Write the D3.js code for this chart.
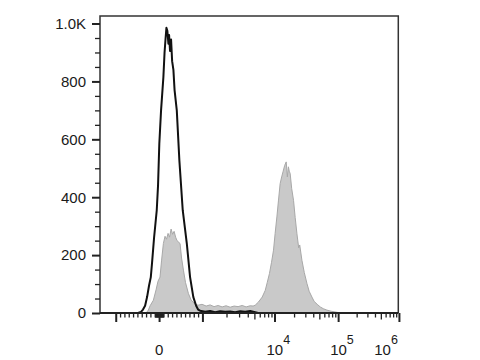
<!DOCTYPE html>
<html>
<head>
<meta charset="utf-8">
<script src="https://cdn.jsdelivr.net/npm/d3@7"></script>
<style>
  html, body { margin: 0; padding: 0; background: #fff; }
  svg { display: block; font-family: "Liberation Sans", Arial, sans-serif; }
  .axis text { fill: #1a1a1a; font-size: 15px; }
  .axis line { stroke: #222; }
</style>
</head>
<body>
<svg id="chart" width="480" height="360"></svg>
<script>
// histogram bins, x in display channels (0..256 across the biex axis)
const stainedChannels = [39.5, 41.5, 43.0, 45.8, 48.1, 49.8, 51.5, 52.8, 54.4, 55.8, 57.1, 58.4, 59.7, 61.0, 62.3, 63.6,
  64.9, 66.1, 68.7, 70.0, 71.6, 73.4, 75.9, 78.2, 81.6, 84.2, 87.6, 91.1, 94.5, 97.9, 101.4, 104.8, 108.2, 111.7,
  115.1, 118.5, 122.0, 125.4, 128.9, 131.4, 133.2, 136.0, 139.2, 141.8, 143.5, 145.4, 147.2, 148.9, 150.3, 151.8,
  153.2, 154.6, 155.9, 157.2, 158.5, 159.8, 160.8, 161.7, 162.4, 163.2, 164.5, 166.1, 167.5, 169.0, 170.5, 171.4,
  173.3, 175.3, 177.6, 179.5, 181.9, 183.8, 186.4, 189.0, 191.6, 194.7, 198.4, 202.7, 206.2];
const stainedCounts = [0, 10, 25, 44, 80, 110, 124, 180, 240, 265, 255, 275, 262, 290, 272, 282,
  262, 250, 240, 190, 148, 105, 67, 45, 30, 27, 30, 24, 28, 22, 26, 21, 25, 20,
  24, 22, 26, 21, 25, 24, 27, 38, 55, 78, 105, 136, 175, 217, 275, 332,
  390, 447, 470, 490, 510, 522, 470, 505, 490, 482, 430, 389, 330, 274, 225, 235,
  182, 140, 102, 75, 55, 40, 30, 21, 15, 10, 6, 3, 0];

const controlChannels = [0, 32.6, 35.2, 36.9, 38.7, 40.4, 42.1, 43.6, 44.7, 46.4, 48.7, 49.8, 50.9, 52.4, 54.4, 55.4,
  56.3, 57.0, 57.8, 58.7, 59.3, 60.1, 61.0, 61.9, 63.0, 64.0, 65.9, 68.1, 71.0, 74.5, 77.3, 80.1, 82.5, 84.2,
  85.9, 90.2, 94.5, 98.8, 103.1, 107.4, 111.7, 116.0, 120.3, 124.6, 128.9, 133.2, 135.7];
const controlCounts = [0, 0, 4, 12, 25, 55, 95, 124, 175, 260, 355, 440, 585, 700, 815, 900,
  950, 985, 975, 930, 960, 905, 945, 870, 840, 770, 700, 528, 355, 240, 124, 55, 25, 12,
  8, 4, 7, 3, 6, 4, 5, 3, 6, 4, 7, 3, 0];

const yMajorTicks = [0, 200, 400, 600, 800, 1000];
const xMajorTicks = [-1000, 0, 1000, 1e4, 1e5, 1e6];
const xLabelValues = [0, 1e4, 1e5, 1e6];

(function () {
  const svg = d3.select('#chart');
  const left = 100, right = 398.3, top = 16, bottom = 313;

  // biexponential display transform: linear around zero, log-like above 10^3
  function biex(v) {
    const c0 = 50.7, L = 37.2, D = 61.85, g = 0.913;
    const a = Math.abs(v), s = Math.sign(v);
    if (a <= 1000) return c0 + v / 1000 * L;
    return c0 + s * (L + D * Math.pow(Math.log10(a / 1000), g));
  }

  const x = d3.scaleLinear().domain([0, 256]).range([left, right]);
  const y = d3.scaleLinear().domain([0, 1026]).range([bottom, top]);

  // minor ticks
  const xMinor = [], xMid = [];
  for (let k = 1; k <= 9; k++) { xMinor.push(-k * 100, k * 100, -k * 10, k * 10); }
  [1e3, 1e4, 1e5].forEach(d => {
    for (let k = 2; k <= 9; k++) (k === 5 ? xMid : xMinor).push(k * d);
  });
  const yMinor = d3.range(50, 1001, 50).filter(v => v % 200 !== 0);

  // stained sample, filled grey
  const area = d3.area().x((d, i) => x(stainedChannels[i])).y0(y(0)).y1(d => y(d));
  svg.append('path').datum(stainedCounts).attr('d', area)
    .attr('fill', '#c9c9c9').attr('stroke', '#a8a8a8').attr('stroke-width', 1);

  // control, black outline
  const line = d3.line().x((d, i) => x(controlChannels[i])).y(d => y(d));
  svg.append('path').datum(controlCounts).attr('d', line)
    .attr('fill', 'none').attr('stroke', '#111').attr('stroke-width', 2).attr('stroke-linejoin', 'round');

  // frame
  svg.append('path')
    .attr('d', `M${left},${bottom}V${top}H${right}V${bottom}`)
    .attr('fill', 'none').attr('stroke', '#333').attr('stroke-width', 1.5);
  svg.append('line').attr('x1', left).attr('x2', right).attr('y1', bottom).attr('y2', bottom)
    .attr('stroke', '#222').attr('stroke-width', 2);

  // y axis
  svg.append('g').attr('class', 'axis').attr('transform', `translate(${left},0)`)
    .call(d3.axisLeft(y).tickValues(yMinor).tickSize(5).tickFormat(''))
    .call(s => s.select('.domain').remove())
    .call(s => s.selectAll('line').attr('stroke-width', 1.3));
  svg.append('g').attr('class', 'axis').attr('transform', `translate(${left},0)`)
    .call(d3.axisLeft(y).tickValues(yMajorTicks).tickSize(8).tickPadding(6)
      .tickFormat(d => d === 1000 ? '1.0K' : d))
    .call(s => s.select('.domain').remove())
    .call(s => s.selectAll('line').attr('stroke-width', 2));

  // x axis
  svg.append('g').attr('class', 'axis').attr('transform', `translate(0,${bottom})`)
    .call(d3.axisBottom(x).tickValues(xMinor.map(biex)).tickSize(4.5).tickFormat(''))
    .call(s => s.select('.domain').remove())
    .call(s => s.selectAll('line').attr('stroke-width', 1.3));
  svg.append('g').attr('class', 'axis').attr('transform', `translate(0,${bottom})`)
    .call(d3.axisBottom(x).tickValues(xMid.map(biex)).tickSize(6.5).tickFormat(''))
    .call(s => s.select('.domain').remove())
    .call(s => s.selectAll('line').attr('stroke-width', 1.3));
  svg.append('g').attr('class', 'axis').attr('transform', `translate(0,${bottom})`)
    .call(d3.axisBottom(x).tickValues(xMajorTicks.map(biex)).tickSize(9).tickFormat(''))
    .call(s => s.select('.domain').remove())
    .call(s => s.selectAll('line').attr('stroke-width', 2));

  // x labels with superscript exponents
  const labels = svg.append('g').attr('class', 'axis');
  xLabelValues.forEach((v, i) => {
    const px = x(biex(v));
    const t = labels.append('text').attr('y', 355);
    if (v === 0) {
      t.attr('x', px).attr('text-anchor', 'middle').text('0');
      return;
    }
    const last = i === xLabelValues.length - 1;
    t.attr('x', last ? px - 1 : px - 8).attr('text-anchor', last ? 'end' : 'start');
    t.append('tspan').text('10');
    t.append('tspan').attr('dy', -11).attr('font-size', '12.5px').text(Math.round(Math.log10(v)));
  });
})();
</script>
</body>
</html>
